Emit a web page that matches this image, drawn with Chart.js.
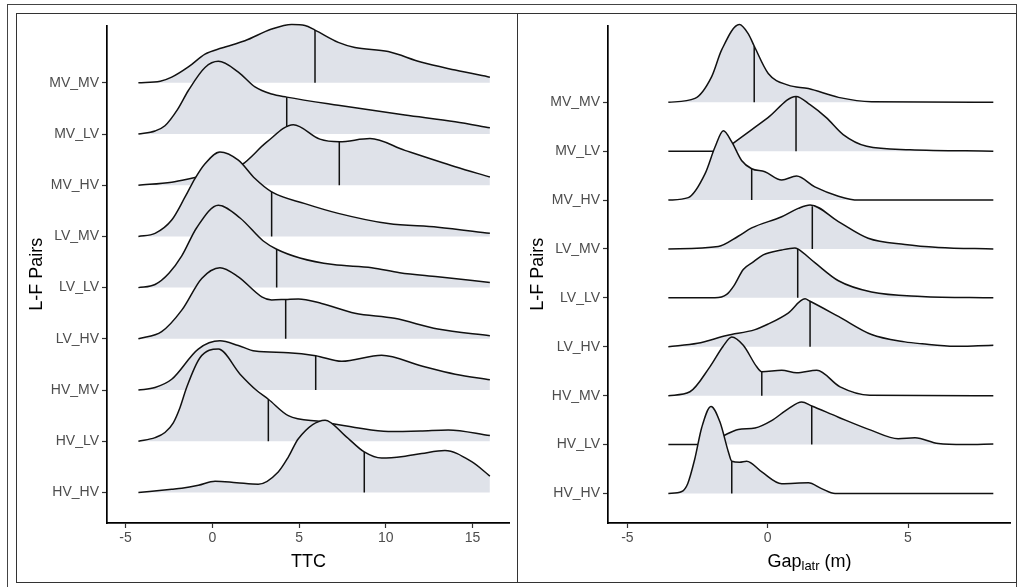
<!DOCTYPE html>
<html>
<head>
<meta charset="utf-8">
<script src="https://cdn.jsdelivr.net/npm/chart.js@4.4.1/dist/chart.umd.min.js"></script>
<style>
  html, body { margin:0; padding:0; background:#fff; }
  body { width:1020px; height:587px; position:relative; overflow:hidden; font-family:"Liberation Sans", Arial, sans-serif; }
  .frame { position:absolute; box-sizing:border-box; }
  canvas { position:absolute; }
</style>
</head>
<body>
<div class="frame" style="left:7px;top:4px;width:1010px;height:600px;border:1px solid #444;"></div>
<div class="frame" style="left:16px;top:13px;width:1001px;height:570px;border:1px solid #333;"></div>
<div class="frame" style="left:517px;top:13px;width:1px;height:570px;background:#333;"></div>
<div style="position:absolute;left:17px;top:14px;width:493px;height:568px;"><canvas id="c1"></canvas></div>
<div style="position:absolute;left:518px;top:14px;width:493px;height:568px;"><canvas id="c2"></canvas></div>
<script>
// ---------------- DATA ----------------
const categories = ['HV_HV','HV_LV','HV_MV','LV_HV','LV_LV','LV_MV','MV_HV','MV_LV','MV_MV'];

// TTC ridge densities: [x, height in ridge units]
const ttc_HV_HV = [[-4.26,0],[-2.34,0.06],[-1.76,0.08],[-0.8,0.14],[0.16,0.22],[1.4,0.19],[2.65,0.16],[3.8,0.40],[4.38,0.69],[4.96,1.05],[6.5,1.41],[7.65,1.11],[8.76,0.79],[9.76,0.67],[11,0.70],[12.07,0.76],[13.41,0.82],[14.95,0.60],[16,0.32]];
const ttc_HV_LV = [[-4.26,0],[-3.3,0.07],[-2.73,0.17],[-2.25,0.36],[-1.86,0.66],[-1.48,1.05],[-0.71,1.63],[0.35,1.80],[1.6,1.31],[2.56,0.99],[3.23,0.82],[4.38,0.50],[6.3,0.38],[8.22,0.27],[10.14,0.19],[12,0.20],[13.6,0.22],[16,0.11]];
const ttc_HV_MV = [[-4.26,0],[-3.3,0.05],[-2.34,0.21],[-0.81,0.80],[0.44,0.96],[1.5,0.87],[2.46,0.76],[4.38,0.73],[5.96,0.67],[7.46,0.56],[9.76,0.68],[12.07,0.47],[14,0.31],[16,0.20]];
const ttc_LV_HV = [[-4.26,0],[-2.92,0.14],[-1.76,0.56],[-0.61,1.18],[0.44,1.39],[1.5,1.21],[2.85,0.82],[3.42,0.76],[4.23,0.77],[4.96,0.78],[6.3,0.69],[8.22,0.50],[10.5,0.40],[13,0.19],[16,0.06]];
const ttc_LV_LV = [[-4.26,0],[-3.3,0.06],[-2.5,0.28],[-1.76,0.62],[-0.9,1.17],[0.35,1.61],[1.6,1.36],[2.94,0.91],[3.71,0.75],[5.05,0.58],[6.97,0.45],[9.19,0.39],[10.8,0.29],[13,0.21],[16,0.10]];
const ttc_LV_MV = [[-4.26,0],[-3.3,0.06],[-2.34,0.32],[-1.57,0.77],[-1,1.13],[-0.42,1.42],[0.44,1.65],[1.5,1.49],[2.46,1.13],[3.42,0.87],[5.34,0.64],[7.26,0.45],[10.14,0.25],[13,0.18],[16,0.06]];
const ttc_MV_HV = [[-4.26,0],[-2.34,0.06],[-1,0.15],[0.5,0.25],[1.7,0.40],[3.13,0.84],[4.67,1.18],[6.2,0.90],[7.32,0.85],[9.09,0.91],[11.1,0.68],[14,0.36],[16,0.16]];
const ttc_MV_LV = [[-4.26,0],[-3.3,0.06],[-2.73,0.16],[-2.0,0.48],[-1.38,0.85],[-0.42,1.30],[0.35,1.42],[1.5,1.21],[2.46,0.92],[3.42,0.78],[4.29,0.72],[7.26,0.56],[11.1,0.37],[14,0.24],[16,0.12]];
const ttc_MV_MV = [[-4.26,0],[-3,0.03],[-2.34,0.11],[-1.38,0.31],[-0.42,0.56],[0.54,0.68],[1.88,0.82],[3.42,1.05],[4.58,1.14],[5.34,1.12],[5.92,1.03],[7.26,0.79],[8.22,0.69],[10.14,0.61],[12.07,0.40],[14,0.25],[16,0.11]];
const ttcMedians = [8.76, 3.23, 5.96, 4.23, 3.71, 3.42, 7.32, 4.29, 5.92];
const ttcTicks = [-5, 0, 5, 10, 15];

// Gap_latr ridge densities
const gap_HV_HV = [[-3.54,0],[-3.06,0.04],[-2.85,0.20],[-2.6,0.70],[-2.35,1.35],[-2.02,1.78],[-1.70,1.46],[-1.40,0.85],[-1.28,0.66],[-1.0,0.64],[-0.75,0.66],[-0.21,0.44],[0.5,0.20],[1.45,0.22],[1.92,0.10],[2.4,0],[8.04,0]];
const gap_HV_LV = [[-3.54,0],[-2.4,0],[-2.0,0.06],[-1.58,0.18],[-1.05,0.31],[-0.45,0.34],[0.14,0.49],[0.73,0.73],[1.21,0.87],[1.57,0.79],[2.52,0.56],[3.7,0.29],[4.65,0.12],[5.25,0.14],[6.08,0.02],[7,0],[8.04,0.01]];
const gap_HV_MV = [[-3.54,0],[-2.77,0.08],[-2.06,0.59],[-1.6,1.0],[-1.28,1.20],[-0.87,1.03],[-0.39,0.59],[-0.21,0.49],[0.5,0.52],[1.03,0.47],[1.75,0.52],[2.58,0.18],[3.64,0.01],[8.04,0]];
const gap_LV_HV = [[-3.54,0],[-2.5,0.07],[-1.46,0.23],[-0.45,0.35],[0,0.46],[0.73,0.69],[1.33,0.98],[1.51,0.93],[2.52,0.62],[3.7,0.25],[4.89,0.10],[5.5,0.06],[6.67,0.01],[7.5,0.02],[8.04,0.03]];
const gap_LV_LV = [[-3.54,0],[-1.88,0],[-1.46,0.07],[-1.2,0.25],[-0.87,0.58],[-0.5,0.74],[-0.16,0.88],[0.5,0.98],[0.97,1.02],[1.07,1.0],[1.68,0.72],[2.52,0.35],[3.7,0.12],[5.49,0.03],[8.04,0]];
const gap_LV_MV = [[-3.54,0],[-1.76,0.05],[-1.05,0.26],[-0.57,0.43],[0.5,0.66],[1.09,0.83],[1.51,0.90],[2.52,0.56],[3.58,0.22],[4.89,0.09],[6.08,0.03],[8.04,0]];
const gap_MV_HV = [[-3.54,0],[-2.83,0.05],[-2.23,0.54],[-1.88,1.08],[-1.58,1.42],[-1.28,1.19],[-0.93,0.81],[-0.57,0.64],[-0.1,0.58],[0.5,0.41],[1.03,0.49],[1.68,0.27],[2.52,0.08],[3.23,0],[8.04,0]];
const gap_MV_LV = [[-3.54,0],[-1.6,0],[-1.28,0.14],[0,0.68],[1.01,1.12],[1.51,0.95],[2.1,0.68],[2.69,0.34],[3.53,0.10],[5.07,0.03],[8.04,0]];
const gap_MV_MV = [[-3.54,0],[-2.59,0.08],[-2.0,0.52],[-1.64,1.07],[-1.01,1.59],[-0.69,1.40],[-0.48,1.15],[0.02,0.59],[0.73,0.35],[1.45,0.28],[2.52,0.10],[3.7,0.01],[8.04,0]];
const gapMedians = [-1.28, 1.57, -0.21, 1.51, 1.07, 1.59, -0.57, 1.01, -0.48];
const gapTicks = [-5, 0, 5];

const ttcRidges = [ttc_HV_HV, ttc_HV_LV, ttc_HV_MV, ttc_LV_HV, ttc_LV_LV, ttc_LV_MV, ttc_MV_HV, ttc_MV_LV, ttc_MV_MV];
const gapRidges = [gap_HV_HV, gap_HV_LV, gap_HV_MV, gap_LV_HV, gap_LV_LV, gap_LV_MV, gap_MV_HV, gap_MV_LV, gap_MV_MV];

// ---------------- STYLE ----------------
const FILL = '#dfe2e9';
const LINE = '#111111';
const FONT = '"Liberation Sans", Arial, sans-serif';

function interp(pts, x) {
  for (let i = 0; i < pts.length - 1; i++) {
    const a = pts[i], b = pts[i + 1];
    if (x >= a[0] && x <= b[0]) return a[1] + (b[1] - a[1]) * (x - a[0]) / (b[0] - a[0]);
  }
  return 0;
}

function buildDatasets(ridges, medians) {
  const ds = [];
  ridges.forEach((pts, k) => {
    ds.push({
      data: pts.map(p => ({ x: p[0], y: k + p[1] })),
      fill: { value: k },
      backgroundColor: FILL,
      borderColor: LINE,
      borderWidth: 1.5,
      pointRadius: 0,
      cubicInterpolationMode: 'monotone',
      clip: 6,
      order: 2 * k + 1
    });
    const h = interp(pts, medians[k]);
    ds.push({
      data: [{ x: medians[k], y: k }, { x: medians[k], y: k + h }],
      fill: false,
      borderColor: LINE,
      borderWidth: 1.5,
      pointRadius: 0,
      clip: 6,
      order: 2 * k
    });
  });
  return ds;
}

function titlePlugin(xParts) {
  return {
    id: 'axisTitles',
    afterDraw(chart) {
      const ctx = chart.ctx, ca = chart.chartArea;
      ctx.save();
      ctx.fillStyle = '#000';
      ctx.textBaseline = 'alphabetic';
      let total = 0;
      xParts.forEach(p => {
        ctx.font = (p.sub ? '13px ' : '18px ') + FONT;
        p.w = ctx.measureText(p.text).width;
        total += p.w;
      });
      let x = (ca.left + ca.right) / 2 - total / 2;
      const base = 552.5;
      xParts.forEach(p => {
        ctx.font = (p.sub ? '13px ' : '18px ') + FONT;
        ctx.textAlign = 'left';
        ctx.fillText(p.text, x, p.sub ? base + 3.5 : base);
        x += p.w;
      });
      ctx.font = '18px ' + FONT;
      ctx.translate(24.5, (ca.top + ca.bottom) / 2);
      ctx.rotate(-Math.PI / 2);
      ctx.textAlign = 'center';
      ctx.fillText('L-F Pairs', 0, 0);
      ctx.restore();
    }
  };
}

function makeChart(id, ridges, medians, ticks, xmin, xmax, ymin, ymax, xParts, yWidth) {
  new Chart(document.getElementById(id), {
    type: 'line',
    data: { datasets: buildDatasets(ridges, medians) },
    options: {
      responsive: true,
      maintainAspectRatio: false,
      animation: false,
      events: [],
      layout: { padding: { top: 9, right: 0, bottom: 0, left: 0 } },
      plugins: { legend: { display: false }, tooltip: { enabled: false } },
      scales: {
        x: {
          type: 'linear', min: xmin, max: xmax,
          afterBuildTicks: s => { s.ticks = ticks.map(v => ({ value: v })); },
          afterFit: s => { s.height = 59; },
          ticks: { color: '#4d4d4d', font: { size: 14, family: FONT }, padding: 2, maxRotation: 0, autoSkip: false },
          grid: { drawOnChartArea: false, drawTicks: true, tickLength: 5, tickColor: '#333', tickWidth: 1.2 },
          border: { display: true, color: '#000', width: 1.7 }
        },
        y: {
          type: 'linear', min: ymin, max: ymax,
          afterBuildTicks: s => { s.ticks = categories.map((c, i) => ({ value: i })); },
          afterFit: s => { s.width = yWidth; },
          ticks: { color: '#4d4d4d', font: { size: 14, family: FONT }, padding: 3, autoSkip: false,
                   callback: (v, i) => categories[i] },
          grid: { drawOnChartArea: false, drawTicks: true, tickLength: 5, tickColor: '#333', tickWidth: 1.2 },
          border: { display: true, color: '#000', width: 1.7 }
        }
      }
    },
    plugins: [titlePlugin(xParts)]
  });
}

makeChart('c1', ttcRidges, ttcMedians, ttcTicks, -6.07, 17.16, -0.597, 9.121,
  [{ text: 'TTC' }], 90);
makeChart('c2', gapRidges, gapMedians, gapTicks, -5.69, 8.67, -0.604, 9.572,
  [{ text: 'Gap' }, { text: 'latr', sub: true }, { text: ' (m)' }], 90);
</script>
</body>
</html>
